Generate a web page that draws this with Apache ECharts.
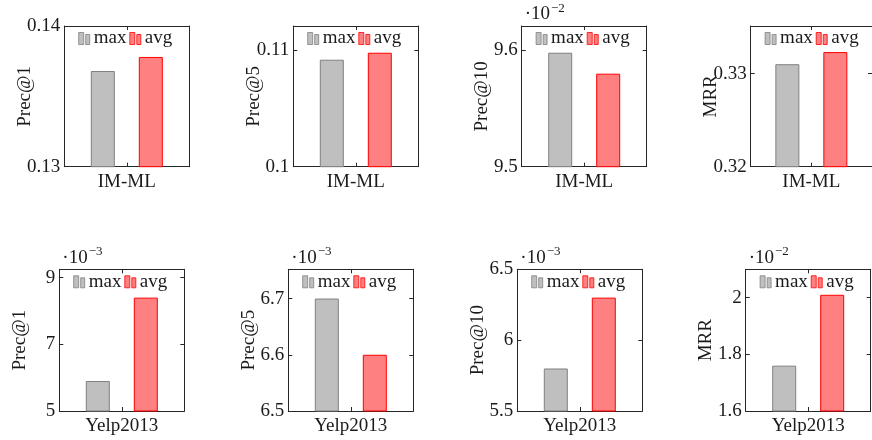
<!DOCTYPE html>
<html>
<head>
<meta charset="utf-8">
<script src="https://cdn.jsdelivr.net/npm/echarts@6/dist/echarts.min.js"></script>
<style>html,body{margin:0;padding:0;background:#fff;}#c{width:872px;height:440px;}</style>
</head>
<body>
<div id="c"></div>
<script>
// ---- data (values as plotted on each axis, i.e. after the ·10^k factor) ----
const rowCategories = ['IM-ML', 'Yelp2013'];
const metricNames = ['Prec@1', 'Prec@5', 'Prec@10', 'MRR'];
const seriesNames = ['max', 'avg'];
const maxValues = [0.1368, 0.1092, 9.598, 0.3310, 5.9, 6.70, 5.80, 1.76];
const avgValues = [0.1378, 0.1098, 9.580, 0.3323, 8.4, 6.60, 6.30, 2.01];
const axisMin  = [0.13, 0.10, 9.5, 0.32, 5, 6.5, 5.5, 1.6];
const axisMax  = [0.14, 0.1121, 9.621, 0.3351, 9.25, 6.752, 6.5, 2.1];
const axisStep = [0.01, 0.01, 0.1, 0.01, 2, 0.1, 0.5, 0.2];
const scaleExp = ['', '', '\u22122', '', '\u22123', '\u22123', '\u22123', '\u22122'];

// ---- layout ----
const FONT = "'Liberation Serif', 'Times New Roman', serif";
const TXT = '#1a1a1a';
const LINE = '#262626';
const gridLefts = [[64.3, 293.3, 521.7, 750.7], [59.3, 288.3, 517.3, 745.7]];
const gridTops = [26, 269.3];
const gridHeights = [140.7, 141.7];
const gridW = 125;
const styles = {
  max: { color: '#bfbfbf', borderColor: '#808080' },
  avg: { color: '#ff8080', borderColor: '#ff0000' }
};
const legendIcon = 'path://M0,0 L5,0 L5,12 L0,12 Z M7,2 L11,2 L11,12 L7,12 Z';

function fmt(v) { return String(parseFloat(v.toFixed(4))); }

const grid = [], xAxis = [], yAxis = [], series = [], legend = [], title = [];
for (let p = 0; p < 8; p++) {
  const r = Math.floor(p / 4), c = p % 4;
  const left = gridLefts[r][c], top = gridTops[r], h = gridHeights[r];
  grid.push({ left: left, top: top, width: gridW, height: h, containLabel: false });
  const showMax = Math.abs((axisMax[p] - axisMin[p]) / axisStep[p] - Math.round((axisMax[p] - axisMin[p]) / axisStep[p])) < 1e-6;
  const axLine = { show: true, onZero: false, lineStyle: { color: LINE, width: 1 } };
  xAxis.push({
    type: 'category', gridIndex: p, position: 'bottom', data: [rowCategories[r]],
    axisLine: axLine,
    axisTick: { show: true, inside: true, alignWithLabel: true, length: 4, lineStyle: { color: LINE } },
    axisLabel: { fontFamily: FONT, fontSize: 19, color: TXT, margin: 6 },
    splitLine: { show: false }
  });
  xAxis.push({
    type: 'category', gridIndex: p, position: 'top', data: [rowCategories[r]],
    axisLine: axLine,
    axisTick: { show: true, inside: true, alignWithLabel: true, length: 4, lineStyle: { color: LINE } },
    axisLabel: { show: false }, splitLine: { show: false }
  });
  yAxis.push({
    type: 'value', gridIndex: p, position: 'left',
    min: axisMin[p], max: axisMax[p], interval: axisStep[p],
    name: metricNames[c], nameLocation: 'middle', nameGap: 30, nameMoveOverlap: false,
    nameTextStyle: { fontFamily: FONT, fontSize: 19, color: TXT },
    axisLine: axLine,
    axisTick: { show: true, inside: true, length: 4, lineStyle: { color: LINE } },
    axisLabel: { fontFamily: FONT, fontSize: 19, color: TXT, margin: 4, showMaxLabel: showMax, showMinLabel: true, formatter: fmt },
    splitLine: { show: false }
  });
  yAxis.push({
    type: 'value', gridIndex: p, position: 'right',
    min: axisMin[p], max: axisMax[p], interval: axisStep[p],
    axisLine: axLine,
    axisTick: { show: true, inside: true, length: 4, lineStyle: { color: LINE } },
    axisLabel: { show: false }, splitLine: { show: false }
  });
  const vals = [maxValues[p], avgValues[p]];
  seriesNames.forEach((n, i) => {
    series.push({
      type: 'bar', name: n, xAxisIndex: 2 * p, yAxisIndex: 2 * p,
      data: [vals[i]], barWidth: 24, barGap: '100%',
      itemStyle: { color: styles[n].color, borderColor: styles[n].borderColor, borderWidth: 1 },
      emphasis: { disabled: true }
    });
  });
  legend.push({
    data: seriesNames.map(n => ({ name: n, icon: legendIcon, itemStyle: { borderWidth: 0.8 } })),
    left: left + 14, top: top + 3,
    itemWidth: 11, itemHeight: 12, itemGap: 3,
    padding: 0, selectedMode: false,
    textStyle: { fontFamily: FONT, fontSize: 19, color: TXT, padding: [0, 0, 0, -1] }
  });
  if (scaleExp[p]) {
    title.push({
      text: '{a|\u00b710}{b|' + scaleExp[p] + '}',
      left: left + 3, top: top - 24, padding: 0,
      textStyle: {
        fontWeight: 'normal',
        rich: {
          a: { fontFamily: FONT, fontSize: 19, fontWeight: 'normal', color: TXT, lineHeight: 22, verticalAlign: 'bottom' },
          b: { fontFamily: FONT, fontSize: 13, fontWeight: 'normal', color: TXT, lineHeight: 22, verticalAlign: 'top', padding: [0, 0, 8, 1] }
        }
      }
    });
  }
}

const chart = echarts.init(document.getElementById('c'), null, { renderer: 'canvas' });
chart.setOption({
  animation: false,
  backgroundColor: '#fff',
  title: title, grid: grid, xAxis: xAxis, yAxis: yAxis, series: series, legend: legend
});
</script>
</body>
</html>
